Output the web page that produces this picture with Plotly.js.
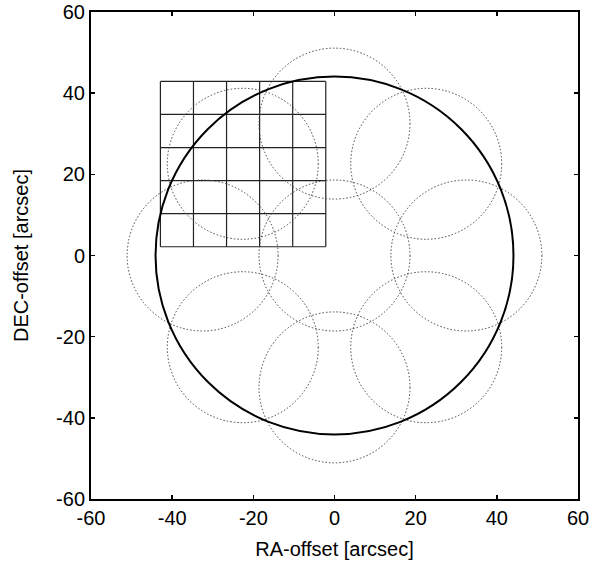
<!DOCTYPE html>
<html>
<head>
<meta charset="utf-8">
<script src="https://cdn.plot.ly/plotly-3.0.1.min.js"></script>
<style>html,body{margin:0;padding:0;background:#fff;}#chart{width:594px;height:567px;}</style>
</head>
<body>
<div id="chart"></div>
<script>
// Tick values and labels
const tickVals = [-60, -40, -20, 0, 20, 40, 60];
const tickText = ["-60", "-40", "-20", "0", "20", "40", "60"];

// Field of view (large solid circle)
const fovCenterX = [0];
const fovCenterY = [0];
const fovRadius = [44.1];

// Dotted pointing circles
const pointCenterX = [0, 0, 22.6, 32.5, 22.6, 0, -22.6, -32.5, -22.6];
const pointCenterY = [0, 32.5, 22.6, 0, -22.6, -32.5, -22.6, 0, 22.6];
const pointRadius = [18.6, 18.6, 18.6, 18.6, 18.6, 18.6, 18.6, 18.6, 18.6];

// Grid (5x5 cells) line positions
const gridX = [-42.9, -34.75, -26.6, -18.45, -10.3, -2.15];
const gridY = [2.15, 10.3, 18.45, 26.6, 34.75, 42.9];

// Build grid line trace
const gx = [], gy = [];
const yMin = Math.min(...gridY), yMax = Math.max(...gridY);
const xMin = Math.min(...gridX), xMax = Math.max(...gridX);
gridX.forEach(x => { gx.push(x, x, null); gy.push(yMin, yMax, null); });
gridY.forEach(y => { gx.push(xMin, xMax, null); gy.push(y, y, null); });

const traces = [{
  type: 'scatter', mode: 'lines', x: gx, y: gy,
  line: {color: '#222', width: 1.2}, hoverinfo: 'skip', showlegend: false
}];

const shapes = [];
pointCenterX.forEach((cx, i) => {
  const r = pointRadius[i], cy = pointCenterY[i];
  shapes.push({type: 'circle', xref: 'x', yref: 'y',
    x0: cx - r, x1: cx + r, y0: cy - r, y1: cy + r,
    line: {color: '#444', width: 1, dash: '1.5px,2px'}});
});
fovCenterX.forEach((cx, i) => {
  const r = fovRadius[i], cy = fovCenterY[i];
  shapes.push({type: 'circle', xref: 'x', yref: 'y',
    x0: cx - r, x1: cx + r, y0: cy - r, y1: cy + r,
    line: {color: '#000', width: 2}});
});

const font = {family: 'Liberation Sans, Arial, Helvetica, sans-serif', color: '#000'};
const axisCommon = {
  range: [-60, 60], tickmode: 'array', tickvals: tickVals, ticktext: tickText,
  ticks: 'inside', ticklen: 4, tickwidth: 1.5, tickcolor: '#000',
  showline: true, linewidth: 2, linecolor: '#000', mirror: 'ticks',
  showgrid: false, zeroline: false,
  tickfont: Object.assign({size: 20}, font)
};

const layout = {
  width: 594, height: 567,
  margin: {l: 91, r: 16, t: 12, b: 68},
  paper_bgcolor: '#fff', plot_bgcolor: '#fff',
  showlegend: false,
  xaxis: Object.assign({}, axisCommon, {
    title: {text: 'RA-offset [arcsec]', font: Object.assign({size: 20}, font), standoff: 14}
  }),
  yaxis: Object.assign({}, axisCommon, {
    title: {text: 'DEC-offset [arcsec]', font: Object.assign({size: 20}, font), standoff: 22}
  }),
  shapes: shapes
};

Plotly.newPlot('chart', traces, layout, {displayModeBar: false, staticPlot: true});
</script>
</body>
</html>
